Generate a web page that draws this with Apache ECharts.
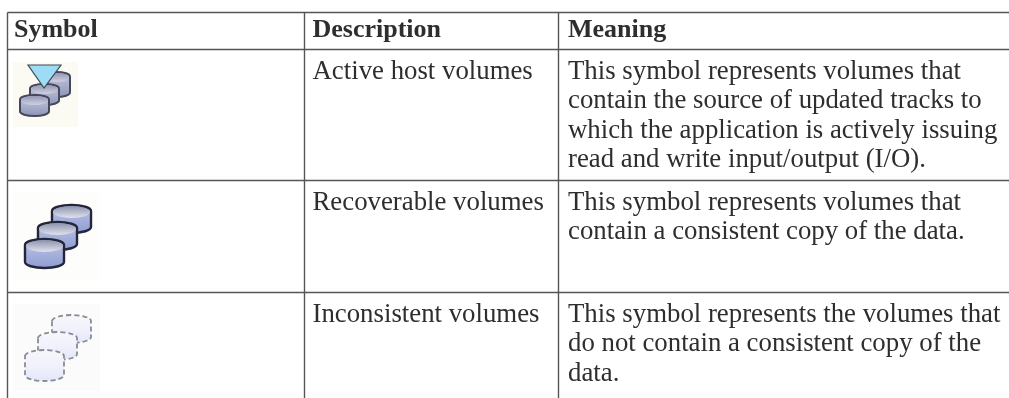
<!DOCTYPE html>
<html>
<head>
<meta charset="utf-8">
<style>
  html, body { margin: 0; padding: 0; background: #fff; }
  #main { width: 1009px; height: 398px; filter: blur(0.4px); }
</style>
<script src="https://cdn.jsdelivr.net/npm/echarts@6/dist/echarts.min.js"></script>
</head>
<body>
<div id="main"></div>
<script>
// table content
var headers = ['Symbol', 'Description', 'Meaning'];
var descriptions = ['Active host volumes', 'Recoverable volumes', 'Inconsistent volumes'];
var meanings = [
  [
    'This symbol represents volumes that',
    'contain the source of updated tracks to',
    'which the application is actively issuing',
    'read and write input/output (I/O).'
  ],
  [
    'This symbol represents volumes that',
    'contain a consistent copy of the data.'
  ],
  [
    'This symbol represents the volumes that',
    'do not contain a consistent copy of the',
    'data.'
  ]
];
var iconKinds = ['active', 'recoverable', 'inconsistent'];

// layout
var colX = [7.5, 304.5, 558.5];
var textX = [14, 312.5, 568];
var rowY = [12.5, 49.5, 180.5, 292.5];
var lineHeight = 29.5;
var textFont = '"Liberation Serif", serif';
var fontSize = 26.8;
var headFontSize = 26;
var lineColor = '#555';
var textColor = '#2e2e2e';

function textEl(str, x, y, bold) {
  return {
    type: 'text',
    style: {
      x: x, y: y, text: str,
      fill: textColor,
      font: (bold ? 'bold ' + headFontSize : fontSize) + 'px ' + textFont,
      verticalAlign: 'middle'
    }
  };
}

function lineEl(x1, y1, x2, y2) {
  return {
    type: 'line',
    shape: { x1: x1, y1: y1, x2: x2, y2: y2 },
    style: { stroke: lineColor, lineWidth: 1.4 }
  };
}

function grad(stops) {
  return {
    type: 'linear', x: 0, y: 0, x2: 0, y2: 1,
    colorStops: stops.map(function (c, i) {
      return { offset: i / (stops.length - 1), color: c };
    })
  };
}

// one disk: body + top ellipse
function disk(x, y, w, h, look) {
  var rx = w / 2, ry = look.ry;
  var body = 'M0 ' + ry + 'A' + rx + ' ' + ry + ' 0 0 1 ' + w + ' ' + ry +
    'L' + w + ' ' + (h - ry) + 'A' + rx + ' ' + ry + ' 0 0 1 0 ' + (h - ry) + 'Z';
  var top = 'M0 ' + ry + 'A' + rx + ' ' + ry + ' 0 0 1 ' + w + ' ' + ry +
    'A' + rx + ' ' + ry + ' 0 0 1 0 ' + ry + 'Z';
  var out = [{
    type: 'path',
    shape: { pathData: body, layout: 'cover', x: x, y: y, width: w, height: h },
    style: { fill: look.body, stroke: look.stroke, lineWidth: look.width, lineDash: look.dash }
  }];
  if (look.top) {
    out.push({
      type: 'path',
      shape: { pathData: top, layout: 'cover', x: x + 1, y: y + 1, width: w - 2, height: ry * 2 },
      style: { fill: look.top, stroke: look.topStroke, lineWidth: 1 }
    });
  }
  return out;
}

function icon(kind) {
  var list = [];
  if (kind === 'active') {
    list.push({ type: 'rect', shape: { x: 13, y: 62, width: 65, height: 65 }, style: { fill: '#fbfbf4' } });
    var a = {
      ry: 4.5, stroke: '#45485c', width: 2,
      body: grad(['#c9cbdc', '#aab0cd', '#8d92b5']),
      top: grad(['#8f93b0', '#d3d5e4']), topStroke: 'rgba(0,0,0,0)'
    };
    [[43, 72, 27, 25], [30, 84, 29, 21], [20, 95, 29, 21]].forEach(function (d) {
      list = list.concat(disk(d[0], d[1], d[2], d[3], a));
    });
    list.push({
      type: 'polygon',
      shape: { points: [[28, 65], [61, 65], [44, 88]] },
      style: { fill: '#9edcf6', stroke: '#3f4a55', lineWidth: 1.2 }
    });
  } else if (kind === 'recoverable') {
    list.push({ type: 'rect', shape: { x: 13, y: 193, width: 87, height: 87 }, style: { fill: '#fdfdfb' } });
    var r = {
      ry: 6, stroke: '#23263a', width: 2.4,
      body: grad(['#c6cbe4', '#a6b2dc', '#8d9bd0']),
      top: grad(['#8a90ad', '#e4e6ef']), topStroke: 'rgba(0,0,0,0)'
    };
    [[52, 205, 39, 28], [38, 222, 39, 28], [25, 239, 39, 29]].forEach(function (d) {
      list = list.concat(disk(d[0], d[1], d[2], d[3], r));
    });
  } else {
    list.push({ type: 'rect', shape: { x: 13, y: 304, width: 87, height: 87 }, style: { fill: '#fbfbfb' } });
    var n = {
      ry: 6, stroke: '#8a8c92', width: 1.8, dash: [5, 3],
      body: grad(['#f7f7fb', '#f0f1fb', '#e3e6fa'])
    };
    [[52, 315, 39, 28], [38, 332, 39, 28], [25, 350, 39, 31]].forEach(function (d) {
      list = list.concat(disk(d[0], d[1], d[2], d[3], n));
    });
  }
  return list;
}

var chart = echarts.init(document.getElementById('main'));

chart.setOption({
  animation: false,
  backgroundColor: '#fff',
  series: [
    {
      // grid lines + header
      type: 'custom',
      coordinateSystem: 'none',
      silent: true,
      data: [0],
      renderItem: function (params, api) {
        var kids = [];
        rowY.forEach(function (y) { kids.push(lineEl(colX[0], y, api.getWidth(), y)); });
        colX.forEach(function (x) { kids.push(lineEl(x, rowY[0], x, api.getHeight())); });
        headers.forEach(function (h, i) { kids.push(textEl(h, textX[i], 30, true)); });
        return { type: 'group', children: kids };
      }
    },
    {
      // body rows
      type: 'custom',
      coordinateSystem: 'none',
      silent: true,
      data: [0, 1, 2],
      renderItem: function (params) {
        var i = params.dataIndex;
        var y0 = rowY[i + 1] + 22.3;
        var kids = icon(iconKinds[i]);
        kids.push(textEl(descriptions[i], textX[1], y0));
        meanings[i].forEach(function (line, k) {
          kids.push(textEl(line, textX[2], y0 + k * lineHeight));
        });
        return { type: 'group', children: kids };
      }
    }
  ]
});
</script>
</body>
</html>
